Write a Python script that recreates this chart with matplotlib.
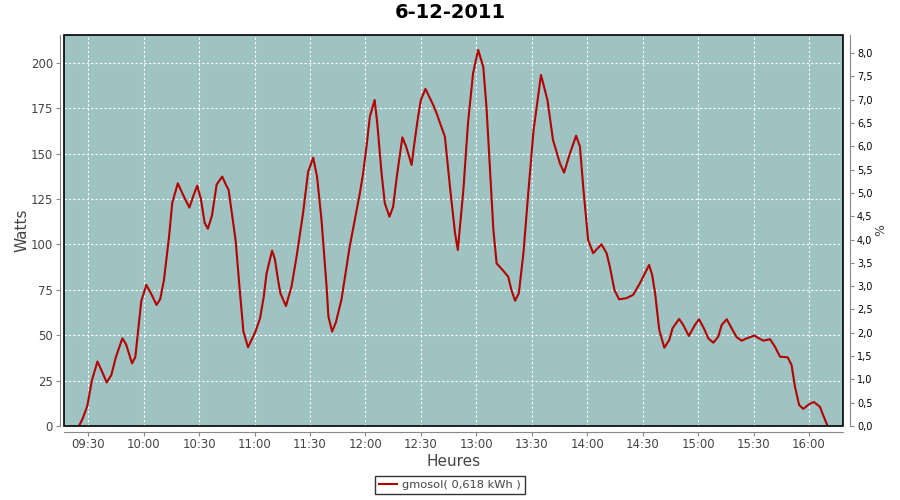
import matplotlib
matplotlib.use("Agg")
import matplotlib.pyplot as plt
import matplotlib.dates as mdates
from matplotlib.ticker import FuncFormatter
from matplotlib.patches import Rectangle
import pandas as pd

title = "6-12-2011"
series_name = "gmosol( 0,618 kWh )"

times = [
    "09:25:00", "09:27:00", "09:29:30", "09:32:00", "09:35:00", "09:37:30", "09:40:00", "09:42:30",
    "09:45:00", "09:48:30", "09:50:30", "09:53:45", "09:55:30", "09:58:45", "10:01:30", "10:04:00",
    "10:07:00", "10:09:00", "10:11:00", "10:13:45", "10:15:30", "10:18:30", "10:21:30", "10:24:45",
    "10:27:00", "10:29:00", "10:31:00", "10:33:00", "10:34:45", "10:37:00", "10:39:30", "10:42:30",
    "10:44:30", "10:46:00", "10:49:45", "10:52:00", "10:54:00", "10:56:30", "11:00:30", "11:03:00",
    "11:05:00", "11:06:30", "11:09:30", "11:11:00", "11:12:45", "11:14:00", "11:17:00", "11:20:00",
    "11:22:45", "11:26:15", "11:29:00", "11:31:45", "11:33:50", "11:36:15", "11:39:00", "11:40:00",
    "11:42:00", "11:44:00", "11:47:00", "11:51:30", "11:57:00", "11:58:45", "12:00:35", "12:02:25",
    "12:05:00", "12:06:25", "12:08:45", "12:10:30", "12:13:00", "12:15:00", "12:17:00", "12:20:00",
    "12:22:00", "12:25:00", "12:26:15", "12:28:30", "12:30:00", "12:32:30", "12:36:40", "12:38:30",
    "12:43:00", "12:45:45", "12:48:30", "12:50:00", "12:53:00", "12:55:30", "12:58:15", "13:01:00",
    "13:03:45", "13:05:30", "13:07:30", "13:09:15", "13:11:00", "13:14:30", "13:17:15", "13:19:00",
    "13:21:00", "13:23:00", "13:25:30", "13:28:15", "13:31:00", "13:35:00", "13:38:30", "13:41:30",
    "13:45:15", "13:47:30", "13:50:40", "13:54:00", "13:56:05", "13:58:00", "14:00:30", "14:03:15",
    "14:05:05", "14:07:45", "14:10:30", "14:12:15", "14:14:45", "14:17:15", "14:21:10", "14:24:50",
    "14:28:30", "14:33:30", "14:35:10", "14:36:45", "14:39:00", "14:41:45", "14:44:25", "14:46:10",
    "14:49:45", "14:52:00", "14:55:00", "14:58:15", "15:00:30", "15:03:10", "15:05:30", "15:08:15",
    "15:10:55", "15:12:45", "15:15:30", "15:18:40", "15:20:55", "15:23:35", "15:26:20", "15:30:25",
    "15:32:55", "15:35:20", "15:38:55", "15:41:35", "15:44:20", "15:48:30", "15:50:35", "15:52:25",
    "15:54:40", "15:56:55", "16:00:10", "16:02:40", "16:05:55", "16:07:40", "16:10:05",
]
watts = [
    0, 4, 11, 25, 35.5, 30, 24, 28,
    38, 48.3, 45, 34.5, 38, 69, 77.7, 73,
    66.7, 70, 80.4, 104.3, 123, 133.7, 127, 120.3,
    127, 132.4, 125, 112, 108.7, 116, 133, 137.4,
    133, 130, 102.5, 75, 52, 43.4, 52, 59.3,
    71.2, 84, 96.6, 92, 80.4, 73.1, 66.1, 76.7,
    93.3, 117.2, 140, 147.8, 137.4, 113.5, 76.7, 60.2,
    52, 57, 69.4, 98.8, 128.2, 139.2, 153.9, 170.4,
    179.6, 166.8, 139.2, 122.7, 115.3, 120.8, 137.4, 159,
    154, 143.8, 153.9, 170.4, 179.6, 185.7, 176.9, 172.3,
    159.4, 131.8, 106.2, 97, 130, 166.8, 194.3, 207.2,
    198, 175.9, 139.2, 108, 89.6, 85.6, 82.3, 74.9,
    69, 73.1, 95.2, 130, 163.1, 193.4, 179.6, 157.6,
    144.7, 139.6, 150.2, 159.9, 153.9, 130, 102.5, 95.2,
    97.3, 100.1, 95.2, 87.8, 74.9, 69.8, 70.4, 72.2,
    78.6, 88.7, 83.2, 73.1, 52.9, 43.1, 47.4, 53.8,
    59, 55.6, 49.6, 55.6, 58.8, 53.8, 48.3, 45.9,
    49.2, 55.6, 58.8, 52.9, 48.9, 47, 48.3, 49.8,
    48.3, 47, 47.8, 43.7, 38.2, 37.8, 33.6, 21.7,
    11.6, 9.4, 12.1, 13.2, 10.6, 6, 0,
]

watt_ticks = [0, 25, 50, 75, 100, 125, 150, 175, 200]
pct_ticks = [0.0, 0.5, 1.0, 1.5, 2.0, 2.5, 3.0, 3.5, 4.0, 4.5, 5.0, 5.5, 6.0, 6.5, 7.0, 7.5, 8.0]

t = pd.to_datetime(["2011-12-06 " + s for s in times])

plt.rcParams['font.family'] = ['DejaVu Sans']
fig = plt.figure(figsize=(9, 5), dpi=100)
fig.patch.set_facecolor('white')
ax = fig.add_axes([64/900, 74/500, (843-64)/900, (426-35)/500])
ax.set_facecolor('#9ec3c2')

ax.plot(t, watts, color='#b40000', lw=1.5, solid_joinstyle='round', zorder=3)

ax.set_xlim(pd.Timestamp("2011-12-06 09:16:55"), pd.Timestamp("2011-12-06 16:18:25"))
ax.set_ylim(0, 215.4)
ax.set_yticks(watt_ticks)
ax.xaxis.set_major_locator(mdates.MinuteLocator(byminute=[0, 30]))
ax.xaxis.set_major_formatter(mdates.DateFormatter('%H:%M'))
ax.grid(True, color='white', linestyle=(0, (2, 2)), linewidth=0.8, zorder=1)
ax.set_axisbelow(True)

grey = '#888888'
for side in ['top', 'right']:
    ax.spines[side].set_visible(False)
ax.spines['left'].set_position(('outward', 3))
ax.spines['bottom'].set_position(('outward', 4))
ax.spines['left'].set_color(grey)
ax.spines['bottom'].set_color(grey)
ax.tick_params(axis='both', colors=grey, labelcolor='#444444', labelsize=8.5, length=3, width=0.8, pad=2)

ax.add_patch(Rectangle((0, 0), 1, 1, transform=ax.transAxes, fill=False,
                       edgecolor='black', linewidth=1.2, zorder=5, clip_on=False))

ax.set_xlabel("Heures", fontsize=11, color='#444444', labelpad=2)
ax.set_ylabel("Watts", fontsize=11, color='#444444', labelpad=1)

ax2 = ax.twinx()
ax2.set_ylim(0, 8.39)
ax2.set_yticks(pct_ticks)
ax2.yaxis.set_major_formatter(FuncFormatter(lambda v, p: f"{v:.1f}".replace('.', ',')))
for side in ['top', 'left', 'bottom']:
    ax2.spines[side].set_visible(False)
ax2.spines['right'].set_position(('outward', 5))
ax2.spines['right'].set_color(grey)
ax2.tick_params(axis='y', colors=grey, labelcolor='black', labelsize=7, length=3, width=0.8, pad=2)
ax2.set_ylabel("%", fontsize=9, color='#444444', rotation=270, labelpad=8)

fig.suptitle(title, fontsize=14, fontweight='bold', y=0.995, x=0.5, va='top')

leg = fig.legend([ax.lines[0]], [series_name], loc='lower center', bbox_to_anchor=(0.5, 0.0),
                 fontsize=8.2, frameon=True, fancybox=False, handlelength=1.6, handletextpad=0.4,
                 borderpad=0.35, labelcolor='#444444')
leg.get_frame().set_edgecolor('black')
leg.get_frame().set_linewidth(1.0)

fig.savefig("out.png", dpi=100)
